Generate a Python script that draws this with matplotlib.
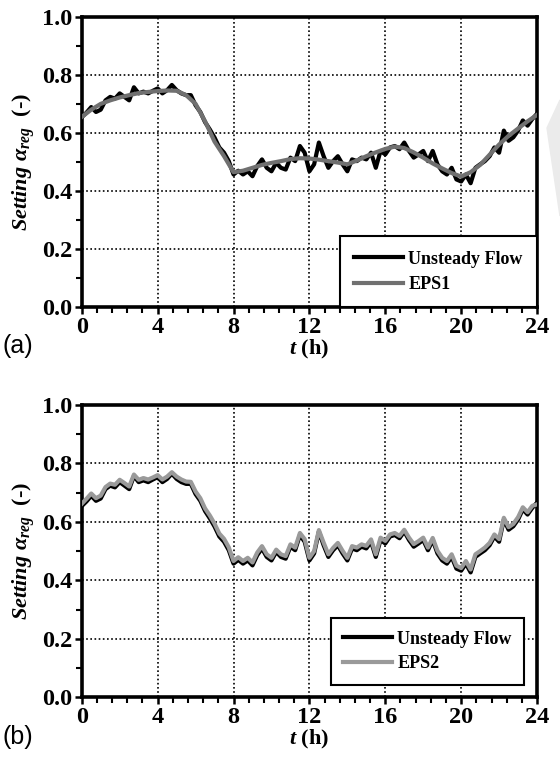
import matplotlib
matplotlib.use("Agg")
import matplotlib.pyplot as plt
from matplotlib.ticker import MultipleLocator
from matplotlib.patches import Polygon
import numpy as np

# Zeitachse (h) fuer die instationaere Simulation, Schritt 0.25 h
t_unsteady = np.arange(0, 24.01, 0.25)

unsteady = [
    0.654, 0.670, 0.689, 0.672, 0.680, 0.712, 0.724, 0.718, 0.736, 0.724,
    0.712, 0.757, 0.736, 0.742, 0.736, 0.745, 0.753, 0.736, 0.747, 0.765,
    0.747, 0.736, 0.730, 0.730, 0.695, 0.672, 0.637, 0.612, 0.584, 0.550,
    0.532, 0.503, 0.457, 0.470, 0.457, 0.468, 0.451, 0.486, 0.509, 0.480,
    0.468, 0.497, 0.480, 0.474, 0.515, 0.503, 0.555, 0.532, 0.468, 0.492,
    0.567, 0.520, 0.480, 0.503, 0.520, 0.492, 0.468, 0.509, 0.503, 0.515,
    0.509, 0.532, 0.480, 0.538, 0.526, 0.550, 0.555, 0.544, 0.567, 0.538,
    0.515, 0.526, 0.538, 0.503, 0.538, 0.492, 0.468, 0.457, 0.480, 0.440,
    0.433, 0.457, 0.427, 0.480, 0.492, 0.503, 0.520, 0.550, 0.532, 0.608,
    0.573, 0.585, 0.608, 0.643, 0.625, 0.648, 0.666,
]

# EPS1 (glatt), Schritt 0.5 h
t_eps1 = np.arange(0, 24.01, 0.5)
eps1 = [
    0.655, 0.680, 0.700, 0.712, 0.722, 0.730, 0.737, 0.741, 0.744, 0.746,
    0.745, 0.730, 0.700, 0.640, 0.570, 0.520, 0.465, 0.470, 0.480, 0.490,
    0.497, 0.503, 0.510, 0.513, 0.512, 0.508, 0.503, 0.498, 0.492, 0.505,
    0.520, 0.533, 0.545, 0.553, 0.548, 0.533, 0.515, 0.495, 0.478, 0.462,
    0.450, 0.465, 0.490, 0.525, 0.560, 0.590, 0.615, 0.640, 0.662,
]

# EPS2 (verrauscht, fast deckungsgleich mit Unsteady Flow)
eps2 = [
    0.662, 0.679, 0.697, 0.681, 0.690, 0.719, 0.731, 0.727, 0.744, 0.733,
    0.721, 0.762, 0.744, 0.750, 0.745, 0.752, 0.760, 0.745, 0.755, 0.770,
    0.755, 0.745, 0.738, 0.737, 0.704, 0.681, 0.646, 0.622, 0.594, 0.560,
    0.542, 0.513, 0.466, 0.479, 0.466, 0.477, 0.461, 0.495, 0.517, 0.489,
    0.477, 0.505, 0.489, 0.483, 0.523, 0.512, 0.562, 0.541, 0.477, 0.500,
    0.572, 0.529, 0.489, 0.511, 0.528, 0.501, 0.477, 0.517, 0.512, 0.523,
    0.518, 0.540, 0.489, 0.546, 0.535, 0.557, 0.562, 0.552, 0.573, 0.546,
    0.524, 0.534, 0.546, 0.512, 0.545, 0.501, 0.477, 0.466, 0.489, 0.450,
    0.442, 0.466, 0.437, 0.489, 0.500, 0.512, 0.528, 0.557, 0.541, 0.614,
    0.582, 0.593, 0.616, 0.650, 0.633, 0.655, 0.660,
]

plt.rcParams["font.family"] = "Liberation Serif"
plt.rcParams["font.weight"] = "bold"
plt.rcParams["axes.labelweight"] = "bold"
plt.rcParams["mathtext.fontset"] = "custom"
plt.rcParams["mathtext.it"] = "Liberation Serif:italic:bold"
plt.rcParams["mathtext.rm"] = "Liberation Serif:bold"

fig = plt.figure(figsize=(5.6, 7.57), dpi=100)
ax_a = fig.add_axes([0.146, 0.594, 0.813, 0.384])
ax_b = fig.add_axes([0.146, 0.079, 0.813, 0.386])

ax_a.plot(t_unsteady, unsteady, color="black", lw=3.0,
          label="Unsteady Flow", zorder=3)
ax_a.plot(t_eps1, eps1, color="#707070", lw=3.0, label="EPS1", zorder=4)

ax_b.plot(t_unsteady, unsteady, color="black", lw=3.0,
          label="Unsteady Flow", zorder=3)
ax_b.plot(t_unsteady, eps2, color="#9a9a9a", lw=3.0,
          label="EPS2", zorder=4)

for ax in (ax_a, ax_b):
    ax.set_xlim(0, 24)
    ax.set_ylim(0, 1)
    ax.xaxis.set_major_locator(MultipleLocator(4))
    ax.xaxis.set_minor_locator(MultipleLocator(0.8))
    ax.yaxis.set_minor_locator(MultipleLocator(0.1))
    ax.set_yticks(np.arange(0, 1.01, 0.2))
    ax.set_yticklabels([f"{v:.1f}" for v in np.arange(0, 1.01, 0.2)])
    ax.tick_params(which="major", direction="out", length=5, width=1.8,
                   labelsize=17.5, pad=2)
    ax.tick_params(which="minor", direction="out", length=4, width=1.5)
    for s in ax.spines.values():
        s.set_linewidth(2.6)
    ax.grid(True, which="major", color="black", ls=(0, (1, 1.5)), lw=1.2)
    ax.set_axisbelow(True)
    for lab in ax.get_xticklabels() + ax.get_yticklabels():
        lab.set_fontweight("bold")
    ax.set_ylabel(r"$Setting\ \alpha_{reg}$  (-)", fontsize=16, labelpad=3)
    ax.set_xlabel(r"$t$ (h)", fontsize=16, labelpad=0)

# Legenden
leg_a = ax_a.legend(loc="lower right", borderaxespad=0, fontsize=13,
                    handlelength=2.7, handletextpad=0.3, fancybox=False,
                    edgecolor="black", framealpha=1, borderpad=0.8,
                    labelspacing=0.45)
leg_a.get_frame().set_linewidth(1.5)
leg_b = ax_b.legend(loc="lower right", borderaxespad=0.7, fontsize=13,
                    handlelength=2.7, handletextpad=0.3, fancybox=False,
                    edgecolor="black", framealpha=1, borderpad=0.7,
                    labelspacing=0.4)
leg_b.get_frame().set_linewidth(1.5)

fig.text(0.004, 0.534, "(a)", family="Liberation Sans", fontweight="normal",
         fontsize=18)
fig.text(0.004, 0.017, "(b)", family="Liberation Sans", fontweight="normal",
         fontsize=18)

# heller Rest eines Wasserzeichens am rechten Rand
fig.patches.append(Polygon([[547 / 560, 1 - 128 / 757], [1.0, 1 - 100 / 757],
                            [1.0, 1 - 216 / 757]], closed=True,
                           transform=fig.transFigure, color="#ebebeb",
                           zorder=0))

fig.savefig("out.png", dpi=100)
